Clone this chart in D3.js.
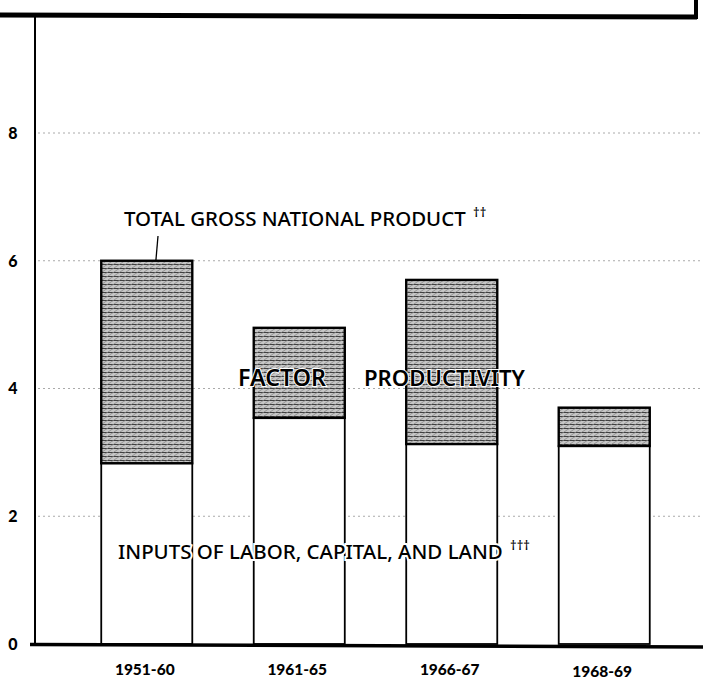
<!DOCTYPE html>
<html>
<head>
<meta charset="utf-8">
<script src="https://cdn.jsdelivr.net/npm/d3@7"></script>
<style>
  html, body { margin: 0; padding: 0; background: #fff; }
  svg { display: block; }
</style>
</head>
<body>
<svg id="chart" width="703" height="680"></svg>
<script>
// ---- data ----
const periods = ["1951-60", "1961-65", "1966-67", "1968-69"];
const inputsGrowth = [2.83, 3.54, 3.13, 3.10];   // inputs of labor, capital, land
const totalGNP = [6.0, 4.95, 5.7, 3.7];          // total gross national product
const yTicks = [0, 2, 4, 6, 8];
const labelTotal = "TOTAL GROSS NATIONAL PRODUCT";
const labelFactor = ["FACTOR", "PRODUCTIVITY"];
const labelInputs = "INPUTS OF LABOR, CAPITAL, AND LAND";

const W = 703, H = 680;
const svg = d3.select("#chart");

const x = d3.scaleBand().domain(periods).range([25, 726]).paddingInner(0.403).paddingOuter(0.5);
const y = d3.scaleLinear().domain([0, 8]).range([644, 133]);
const yTop = 15;

// pattern for productivity part
const defs = svg.append("defs");
const pat = defs.append("pattern").attr("id", "hatch").attr("patternUnits", "userSpaceOnUse")
  .attr("width", 6).attr("height", 4);
pat.append("rect").attr("width", 6).attr("height", 4).attr("fill", "#c6c6c6");
pat.append("line").attr("x1", 0).attr("x2", 6).attr("y1", 0.5).attr("y2", 0.5)
  .attr("stroke", "#404040").attr("stroke-width", 1);
pat.append("line").attr("x1", 0).attr("x2", 6).attr("y1", 4).attr("y2", 0)
  .attr("stroke", "#858585").attr("stroke-width", 0.8);

// gridlines
svg.append("g").selectAll("line").data(yTicks.filter(d => d > 0)).join("line")
  .attr("x1", 38).attr("x2", W).attr("y1", d => y(d)).attr("y2", d => y(d))
  .attr("stroke", "#aaa").attr("stroke-width", 1).attr("stroke-dasharray", "2,3");

// bars
const rows = periods.map((p, i) => ({ p, inp: inputsGrowth[i], tot: totalGNP[i] }));
const bars = svg.append("g");
bars.selectAll("rect.inp").data(rows).join("rect").attr("class", "inp")
  .attr("x", d => x(d.p)).attr("width", x.bandwidth())
  .attr("y", d => y(d.inp)).attr("height", d => y(0) - y(d.inp))
  .attr("fill", "#fff").attr("stroke", "#000").attr("stroke-width", 1.8);
bars.selectAll("rect.prod").data(rows).join("rect").attr("class", "prod")
  .attr("x", d => x(d.p)).attr("width", x.bandwidth())
  .attr("y", d => y(d.tot)).attr("height", d => y(d.inp) - y(d.tot))
  .attr("fill", "url(#hatch)").attr("stroke", "#000").attr("stroke-width", 2.4);

// axes lines
svg.append("line").attr("x1", 35).attr("x2", 35).attr("y1", yTop).attr("y2", y(0))
  .attr("stroke", "#000").attr("stroke-width", 2);
svg.append("line").attr("x1", 30).attr("x2", W).attr("y1", y(0) + 0.5).attr("y2", y(0) + 3)
  .attr("stroke", "#000").attr("stroke-width", 3.5);
// frame of the title box above (bottom and right edge)
svg.append("line").attr("x1", 0).attr("x2", 697).attr("y1", yTop).attr("y2", yTop + 2)
  .attr("stroke", "#000").attr("stroke-width", 5);
svg.append("line").attr("x1", 696).attr("x2", 696).attr("y1", 0).attr("y2", yTop + 4)
  .attr("stroke", "#000").attr("stroke-width", 4);

// y tick labels
svg.append("g").selectAll("text").data(yTicks).join("text")
  .attr("x", 13).attr("y", d => y(d)).attr("dy", "0.36em").attr("text-anchor", "middle")
  .attr("font-family", "Lato, 'DejaVu Sans', sans-serif").attr("font-weight", 900)
  .attr("font-size", 16).text(d => d);

// x labels
svg.append("g").selectAll("text").data(periods).join("text")
  .attr("x", d => x(d) + x.bandwidth() / 2 - 2).attr("y", (d, i) => 675 + (i === 3 ? 1.5 : 0))
  .attr("text-anchor", "middle")
  .attr("font-family", "Lato, 'DejaVu Sans', sans-serif").attr("font-weight", 900)
  .attr("font-size", 15.5).text(d => d);

const annFont = "'Noto Sans', 'DejaVu Sans', sans-serif";
function ann(txt, x0, yb, len, weight, halo, supTxt) {
  const t = svg.append("text").attr("x", x0).attr("y", yb)
    .attr("font-family", annFont).attr("font-size", 21.5).attr("font-weight", weight)
    .attr("stroke", "#fff").attr("stroke-width", halo).attr("paint-order", "stroke")
    .attr("fill", "#000").text(txt);
  // fit the natural width to the target width (no glyph compression)
  const nat = t.node().getComputedTextLength();
  const fs = 21.5 * len / nat;
  t.attr("font-size", fs);
  if (supTxt) {
    svg.append("text").attr("x", x0 + len + 7).attr("y", yb - 9)
      .attr("font-family", annFont).attr("font-size", 13).attr("font-weight", 500)
      .attr("fill", "#000").text(supTxt);
  }
  return t;
}
ann(labelTotal, 124, 226, 342, 500, 0, "††");
ann(labelInputs, 118, 559, 385, 500, 4, "†††");
ann(labelFactor[0], 238, 386, 88, 600, 2);
ann(labelFactor[1], 364, 386, 161, 600, 2);

// leader line from annotation to first bar
svg.append("line").attr("x1", 158).attr("y1", 236)
  .attr("x2", x(periods[0]) + x.bandwidth() * 0.6).attr("y2", y(totalGNP[0]))
  .attr("stroke", "#000").attr("stroke-width", 1.3);
</script>
</body>
</html>
